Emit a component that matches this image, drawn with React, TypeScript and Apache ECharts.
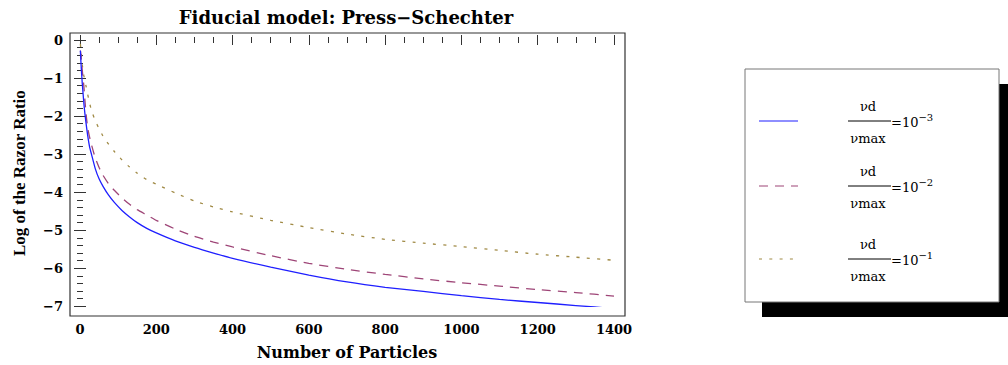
import React, { useEffect, useRef } from "react";
import * as echarts from "echarts";

// Number of particles (x) and log of the razor ratio (y) for each νd/νmax
const particles = [1, 2, 3, 4, 6, 8, 10, 13, 16, 20, 25, 30, 40, 50, 60, 75, 90, 110, 130, 150, 175, 200, 250, 300, 350, 400, 500, 600, 700, 800, 900, 1000, 1100, 1200, 1300, 1400];
const ratioE3 = [-0.28, -0.5, -0.68, -0.85, -1.15, -1.4, -1.65, -1.95, -2.2, -2.5, -2.8, -3.0, -3.38, -3.65, -3.84, -4.08, -4.27, -4.48, -4.65, -4.8, -4.95, -5.07, -5.28, -5.45, -5.6, -5.74, -5.97, -6.18, -6.36, -6.5, -6.61, -6.72, -6.82, -6.9, -6.98, -7.06];
const ratioE2 = [-0.28, -0.35, -0.45, -0.57, -0.8, -1.0, -1.2, -1.6, -1.95, -2.3, -2.55, -2.75, -3.1, -3.35, -3.55, -3.78, -3.95, -4.15, -4.32, -4.46, -4.6, -4.74, -4.97, -5.16, -5.31, -5.44, -5.67, -5.87, -6.03, -6.16, -6.28, -6.38, -6.47, -6.56, -6.64, -6.73];
const ratioE1 = [-0.1, -0.22, -0.33, -0.45, -0.65, -0.8, -0.93, -1.08, -1.22, -1.42, -1.65, -1.85, -2.12, -2.33, -2.52, -2.74, -2.93, -3.15, -3.34, -3.5, -3.67, -3.79, -4.02, -4.23, -4.39, -4.52, -4.74, -4.93, -5.1, -5.24, -5.34, -5.43, -5.53, -5.63, -5.71, -5.79];

const seriesExponents = ["−3", "−2", "−1"];
const seriesColors = ["#1f1fff", "#9e4577", "#a08a45"];
const seriesDashes: (number[] | null)[] = [null, [9, 7], [3, 7.3]];
const seriesData = [ratioE3, ratioE2, ratioE1];

const xMin = 0;
const xMax = 1400;
const xStep = 200;
const yMin = -7;
const yMax = 0;
const yStep = 1;

const SERIF = '"DejaVu Serif", "Liberation Serif", serif';
const SERIF_V = '"Liberation Serif", "DejaVu Serif", serif';

function minusFmt(v: number) {
  return String(v).replace("-", "\u2212");
}

export default function App() {
  const ref = useRef<HTMLDivElement>(null);
  useEffect(() => {
    const chart = echarts.init(ref.current!, null, { renderer: "svg" });

    const tickStyle = { color: "#333", width: 1 };
    const xBase = {
      type: "value" as const,
      min: xMin,
      max: xMax,
      interval: xStep,
      axisLine: { show: false },
      axisTick: { show: true, inside: true, length: 5, lineStyle: tickStyle },
      minorTick: { show: true, splitNumber: 4, length: 3, lineStyle: tickStyle },
      splitLine: { show: false },
      minorSplitLine: { show: false },
    };
    const yBase = {
      type: "value" as const,
      min: yMin,
      max: yMax,
      interval: yStep,
      axisLine: { show: false },
      axisTick: { show: true, inside: true, length: 6, lineStyle: tickStyle },
      minorTick: { show: true, splitNumber: 5, length: 3, lineStyle: tickStyle },
      splitLine: { show: false },
      minorSplitLine: { show: false },
    };

    const legendRows = [121, 186, 259];
    const legendEls: any[] = [
      { type: "rect", shape: { x: 762, y: 84, width: 260, height: 233 }, style: { fill: "#000" }, z: 10 },
      { type: "rect", shape: { x: 745, y: 69, width: 254, height: 233 }, style: { fill: "#fff", stroke: "#777", lineWidth: 1 }, z: 11 },
    ];
    legendRows.forEach((ry, i) => {
      legendEls.push({
        type: "line",
        shape: { x1: 759, y1: ry, x2: 798, y2: ry },
        style: { stroke: seriesColors[i], lineWidth: 1.2, lineDash: seriesDashes[i] || undefined },
        z: 12,
      });
      legendEls.push({
        type: "text",
        x: 868,
        y: ry - 15,
        style: { text: "νd", font: `13px ${SERIF}`, fill: "#000", textAlign: "center", textVerticalAlign: "middle" },
        z: 12,
      });
      legendEls.push({
        type: "line",
        shape: { x1: 848, y1: ry, x2: 891, y2: ry },
        style: { stroke: "#000", lineWidth: 1 },
        z: 12,
      });
      legendEls.push({
        type: "text",
        x: 868,
        y: ry + 17,
        style: { text: "νmax", font: `13px ${SERIF}`, fill: "#000", textAlign: "center", textVerticalAlign: "middle" },
        z: 12,
      });
      legendEls.push({
        type: "text",
        x: 891,
        y: ry + 1,
        style: {
          text: `{m|=10}{s|${seriesExponents[i]}}`,
          textAlign: "left",
          textVerticalAlign: "middle",
          rich: {
            m: { fontFamily: SERIF, fontSize: 13, lineHeight: 20, fill: "#000", color: "#000" },
            s: { fontFamily: SERIF, fontSize: 10, lineHeight: 10, verticalAlign: "top", fill: "#000", color: "#000" },
          },
        },
        z: 12,
      });
    });

    chart.setOption({
      animation: false,
      backgroundColor: "#fff",
      grid: { left: 80, right: 394, top: 40, bottom: 56.7, containLabel: false },
      xAxis: [
        {
          ...xBase,
          position: "bottom",
          offset: 7.7,
          axisLabel: { color: "#000", fontFamily: SERIF, fontWeight: "bold", fontSize: 13, margin: 9, formatter: (v: number) => String(v) },
          name: "Number of Particles",
          nameLocation: "middle",
          nameGap: 30,
          nameTextStyle: { color: "#000", fontFamily: SERIF, fontWeight: "bold", fontSize: 16 },
        },
        { ...xBase, position: "top", offset: 7, axisLabel: { show: false } },
      ],
      yAxis: [
        {
          ...yBase,
          position: "left",
          offset: 10,
          axisLabel: { color: "#000", fontFamily: SERIF, fontWeight: "bold", fontSize: 13, margin: 7, formatter: (v: number) => minusFmt(v) },
          name: "Log of the Razor Ratio",
          nameLocation: "middle",
          nameGap: 42,
          nameTextStyle: { color: "#000", fontFamily: SERIF_V, fontWeight: "bold", fontSize: 17 },
        },
        { ...yBase, position: "right", offset: 11, axisLabel: { show: false } },
      ],
      graphic: [
        {
          type: "text",
          x: 346,
          y: 17,
          style: {
            text: "Fiducial model: Press−Schechter",
            font: `bold 18px ${SERIF}`,
            fill: "#000",
            textAlign: "center",
            textVerticalAlign: "middle",
          },
        },
        {
          type: "rect",
          shape: { x: 70, y: 33, width: 555, height: 283 },
          style: { fill: "none", stroke: "#333", lineWidth: 1.2 },
          z: 5,
        },
        ...legendEls,
      ],
      series: seriesData.map((arr, i) => ({
        type: "line",
        name: `νd/νmax=10^${seriesExponents[i]}`,
        data: particles.map((n, j) => [n, arr[j]]),
        showSymbol: false,
        smooth: 0.2,
        clip: true,
        lineStyle: { color: seriesColors[i], width: 1.3, type: seriesDashes[i] || "solid" },
        itemStyle: { color: seriesColors[i] },
        z: 3 - i,
      })),
    });
    return () => chart.dispose();
  }, []);
  return <div ref={ref} style={{ position: "absolute", left: 0, top: 0, width: 1008, height: 365 }} />;
}
